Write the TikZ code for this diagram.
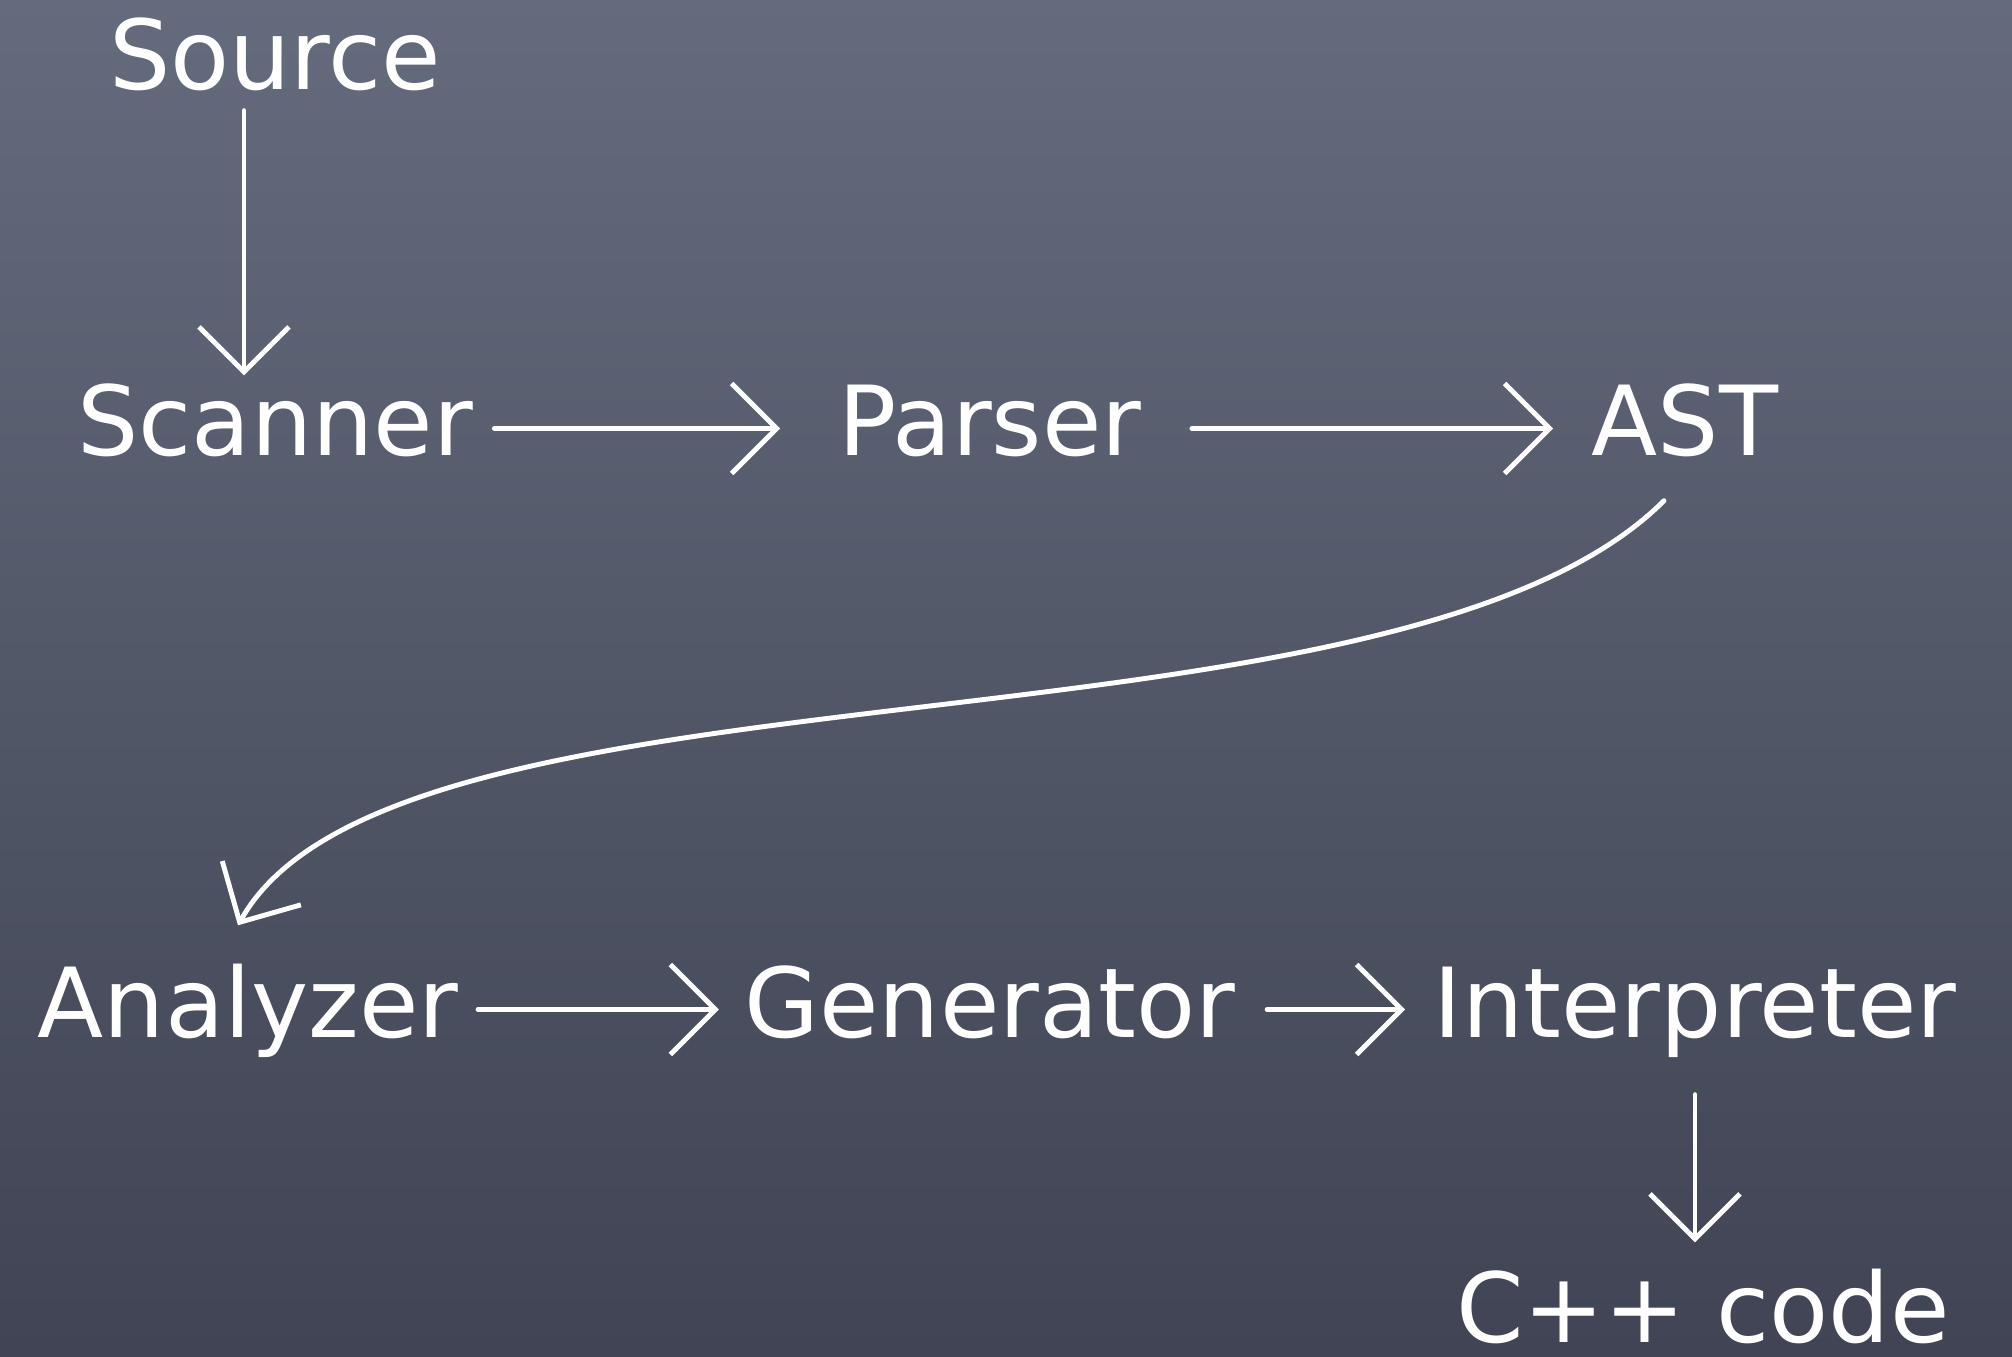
\documentclass[tikz,border=0pt]{standalone}
\usepackage{fontspec}
\setmainfont{DejaVu Sans}
\usetikzlibrary{arrows.meta}
\definecolor{boardtop}{RGB}{100,107,124}
\definecolor{boardmid}{RGB}{90,96,113}
\definecolor{boardbot}{RGB}{64,68,84}
\tikzset{
  chalknode/.style={
    text=white,
    font=\fontsize{27.5}{33}\selectfont,
    inner sep=0pt,
    text height=0.75cm,
    text depth=0.2cm,
    anchor=base
  },
  chalkarrow/.style={
    draw=white,
    line width=1.4pt,
    line cap=round,
    -{Straight Barb[length=4.5mm,width=9mm]}
  }
}
\begin{document}
\begin{tikzpicture}
  \useasboundingbox (0,0) rectangle (20.12,13.56);
  % the board
  \shade[top color=boardtop, middle color=boardmid, bottom color=boardbot]
    (0,0) rectangle (20.12,13.56);

  % front end
  \node[chalknode] (source) at (2.75,12.66) {Source};
  \node[chalknode] (scanner) at (2.75,9.0) {Scanner};
  \node[chalknode] (parser) at (9.90,9.0) {Parser};
  \node[chalknode] (ast) at (16.85,9.0) {AST};
  % back end
  \node[chalknode] (analyzer) at (2.48,3.19) {Analyzer};
  \node[chalknode] (generator) at (9.90,3.19) {Generator};
  \node[chalknode] (interp) at (16.95,3.19) {Interpreter};
  \node[chalknode, text depth=0pt] (cpp) at (17.03,0.14) {C++ code};

  \draw[chalkarrow] ([xshift=-3.1mm]source.south) -- ([xshift=-3.1mm,yshift=0.5mm]scanner.north);
  \draw[chalkarrow, shorten <=2.1mm, shorten >=5.8mm] (scanner.east) -- (parser.west);
  \draw[chalkarrow, shorten <=5mm, shorten >=3.8mm] (parser.east) -- (ast.west);
  \draw[chalkarrow] ([xshift=-2.1mm,yshift=-2.4mm]ast.south)
    .. controls +(-2.72,-2.72) and +(1.57,2.82) .. ([xshift=-1mm,yshift=3.6mm]analyzer.north);
  \draw[chalkarrow, shorten <=1.9mm, shorten >=2.5mm] (analyzer.east) -- (generator.west);
  \draw[chalkarrow, shorten <=3.1mm, shorten >=2.8mm] (generator.east) -- (interp.west);
  \draw[chalkarrow, shorten <=3.7mm, shorten >=2.4mm] (interp.south) -- (interp.south |- cpp.north);
\end{tikzpicture}
\end{document}
